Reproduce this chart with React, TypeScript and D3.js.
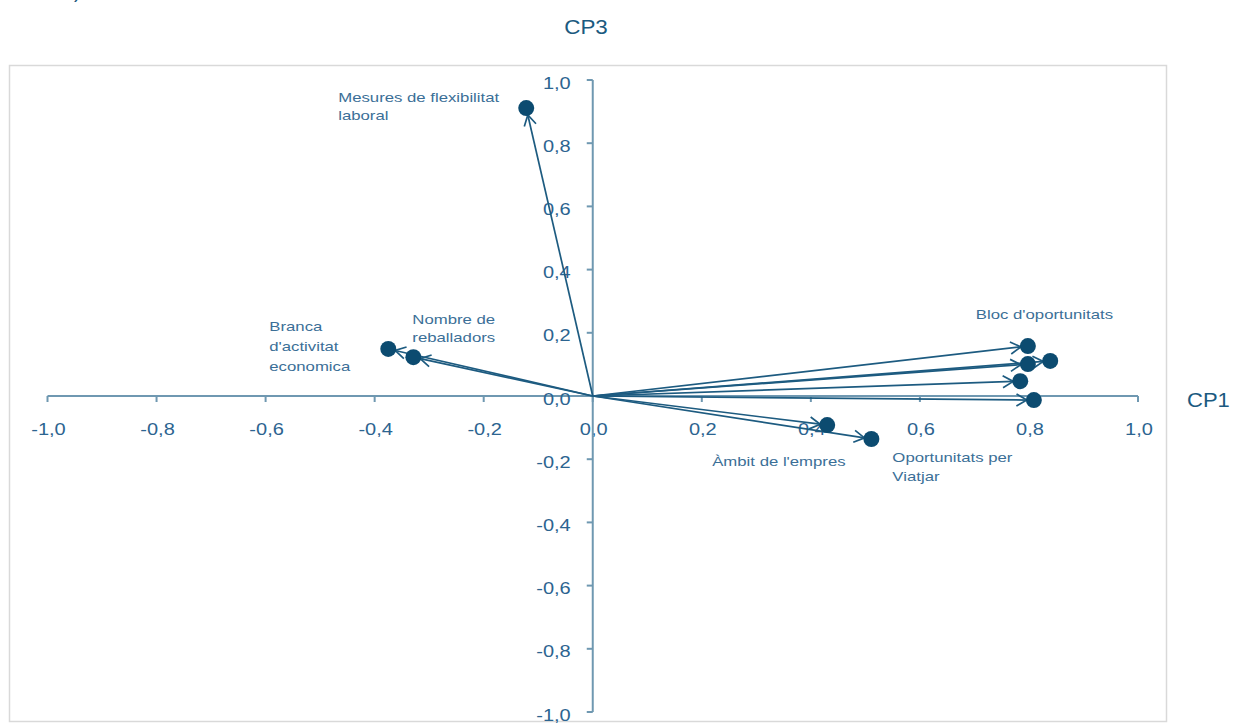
import React from "react";
import * as d3 from "d3";

// ---- data ----
const variableNames = [
  "Mesures de flexibilitat laboral",
  "Branca d'activitat economica",
  "Nombre de reballadors",
  "Bloc d'oportunitats",
  "Bloc d'oportunitats 2",
  "Bloc d'oportunitats 3",
  "Bloc d'oportunitats 4",
  "Bloc d'oportunitats 5",
  "Àmbit de l'empres",
  "Oportunitats per Viatjar",
];
const cp1Values = [-0.122, -0.375, -0.329, 0.798, 0.798, 0.839, 0.784, 0.809, 0.43, 0.511];
const cp3Values = [0.911, 0.149, 0.123, 0.158, 0.101, 0.111, 0.047, -0.013, -0.092, -0.136];
const pointLabels: string[][] = [
  ["Mesures de flexibilitat", "laboral"],
  ["Branca", "d'activitat", "economica"],
  ["Nombre de", "reballadors"],
  ["Bloc d'oportunitats"],
  [],
  [],
  [],
  [],
  ["Àmbit de l'empres"],
  ["Oportunitats per", "Viatjar"],
];
const tickValues = [-1, -0.8, -0.6, -0.4, -0.2, 0, 0.2, 0.4, 0.6, 0.8, 1];
const tickLabels = ["-1,0", "-0,8", "-0,6", "-0,4", "-0,2", "0,0", "0,2", "0,4", "0,6", "0,8", "1,0"];
const xTitle = "CP1";
const yTitle = "CP3";
const cutTitle = ")";

// ---- layout (label offsets from point, px) ----
const labelOffsets: [number, number, number][] = [
  [-188, -11, 18],
  [-119, -22, 20],
  [-1, -38, 18.5],
  [-52, -32, 18],
  [0, 0, 0],
  [0, 0, 0],
  [0, 0, 0],
  [0, 0, 0],
  [-115, 36, 18],
  [21, 19, 19],
];

const AXIS = "#6f98b1";
const LINE = "#1d5b80";
const POINT = "#0c4b70";
const LABEL = "#3b6f97";
const TICK = "#2c6490";
const SX = 1.25;
const SXL = 1.34;

export default function App() {
  const W = 1247;
  const H = 727;
  const x = d3.scaleLinear().domain([-1, 1]).range([47.5, 1138]);
  const y = d3.scaleLinear().domain([-1, 1]).range([712, 80]);
  const x0 = x(0);
  const y0 = y(0);
  const r = 8;

  return (
    <svg
      width={W}
      height={H}
      style={{ position: "absolute", left: 0, top: 0, fontFamily: "'Liberation Sans', Arial, sans-serif" }}
    >
      <rect x={0} y={0} width={W} height={H} fill="#fff" />
      <rect x={9.5} y={65.5} width={1157} height={656} fill="none" stroke="#d9d9d9" strokeWidth={1.5} />

      {/* titles */}
      <text x={74} y={-2} fontSize={20} fill="#1b5a80">{cutTitle}</text>
      <text transform={`translate(586,34) scale(1.12,1)`} textAnchor="middle" fontSize={20} fill="#1b5a80">{yTitle}</text>
      <text transform={`translate(1187,407) scale(1.1,1)`} fontSize={20} fill="#1b5a80">{xTitle}</text>

      {/* x axis */}
      <line x1={x(-1)} x2={x(1)} y1={y0} y2={y0} stroke={AXIS} strokeWidth={2} />
      {tickValues.map((t, i) => (
        <g key={"xt" + i}>
          <line x1={x(t)} x2={x(t)} y1={y0} y2={y0 + 6} stroke={AXIS} strokeWidth={2} />
          <text
            transform={`translate(${x(t) + 1},${y0 + 39}) scale(${SX},1)`}
            textAnchor="middle"
            fontSize={16}
            fill={TICK}
          >
            {tickLabels[i]}
          </text>
        </g>
      ))}

      {/* y axis */}
      <line x1={x0} x2={x0} y1={y(-1)} y2={y(1)} stroke={AXIS} strokeWidth={2} />
      {tickValues.map((t, i) => (
        <g key={"yt" + i}>
          <line x1={x0 - 6} x2={x0} y1={y(t)} y2={y(t)} stroke={AXIS} strokeWidth={2} />
          <text
            transform={`translate(${x0 - 22},${y(t) + 8.5}) scale(${SX},1)`}
            textAnchor="end"
            fontSize={16}
            fill={TICK}
          >
            {tickLabels[i]}
          </text>
        </g>
      ))}

      {/* arrows */}
      {cp1Values.map((v, i) => {
        const px = x(v);
        const py = y(cp3Values[i]);
        const dx = px - x0;
        const dy = py - y0;
        const len = Math.sqrt(dx * dx + dy * dy);
        const ux = dx / len;
        const uy = dy / len;
        const tx = px - ux * 7;
        const ty = py - uy * 7;
        const a = Math.PI / 6;
        const L = 12;
        const ang = Math.atan2(uy, ux);
        const ax1 = tx - L * Math.cos(ang - a);
        const ay1 = ty - L * Math.sin(ang - a);
        const ax2 = tx - L * Math.cos(ang + a);
        const ay2 = ty - L * Math.sin(ang + a);
        return (
          <g key={"ar" + i}>
            <line x1={x0} y1={y0} x2={tx} y2={ty} stroke={LINE} strokeWidth={1.7} />
            <path
              d={`M${ax1},${ay1}L${tx},${ty}L${ax2},${ay2}`}
              fill="none"
              stroke={LINE}
              strokeWidth={1.7}
            />
          </g>
        );
      })}

      {/* points */}
      {cp1Values.map((v, i) => (
        <circle key={"pt" + i} cx={x(v)} cy={y(cp3Values[i])} r={r} fill={POINT} />
      ))}

      {/* labels */}
      {pointLabels.map((lines, i) => {
        if (!lines.length) return null;
        const px = x(cp1Values[i]) + labelOffsets[i][0];
        const py = y(cp3Values[i]) + labelOffsets[i][1];
        const lh = labelOffsets[i][2];
        return (
          <g key={"lb" + i}>
            {lines.map((s, j) => (
              <text
                key={j}
                transform={`translate(${px},${py + j * lh + 4.5}) scale(${SXL},1)`}
                fontSize={12.5}
                fill={LABEL}
              >
                {s}
              </text>
            ))}
          </g>
        );
      })}
    </svg>
  );
}
